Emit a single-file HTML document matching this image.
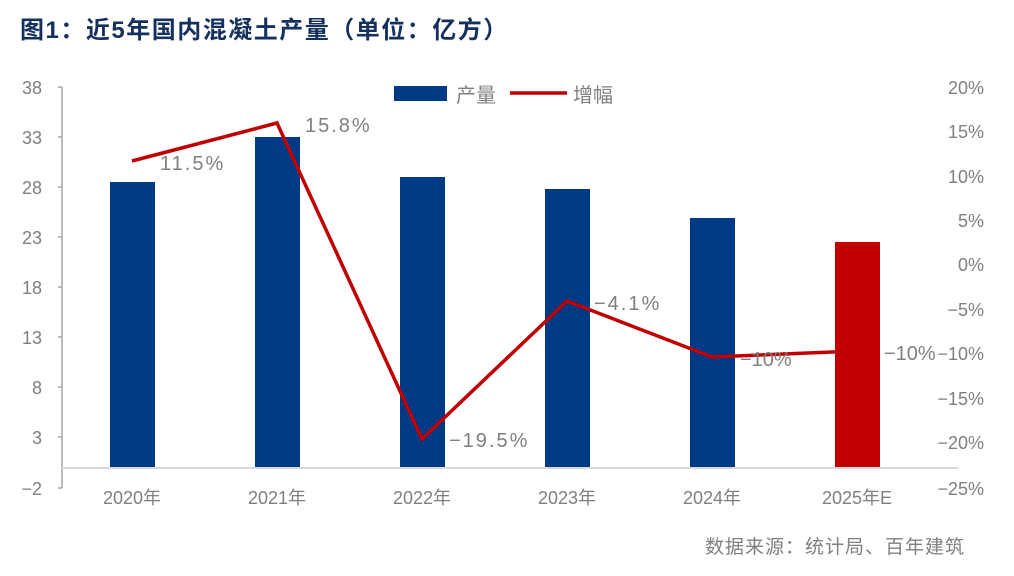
<!DOCTYPE html>
<html><head><meta charset="utf-8"><style>
html,body{margin:0;padding:0;background:#fff;}
svg{display:block;}
text{font-family:"Liberation Sans","Noto Sans CJK SC",sans-serif;}
</style></head><body>
<svg width="1014" height="576" viewBox="0 0 1014 576" xmlns="http://www.w3.org/2000/svg">
<text x="20" y="38" font-size="24" font-weight="bold" fill="#14305e" letter-spacing="1.5">图1：近5年国内混凝土产量（单位：亿方）</text>
<!-- legend -->
<rect x="394" y="86" width="53" height="15" fill="#003a87"/>
<text x="456" y="102" font-size="20" fill="#808080">产量</text>
<line x1="510" y1="93" x2="567" y2="93" stroke="#c00000" stroke-width="3.5"/>
<text x="573" y="102" font-size="20" fill="#808080">增幅</text>
<!-- left axis -->
<line x1="62" y1="87" x2="62" y2="488" stroke="#a6a6a6" stroke-width="1.5"/>
<g stroke="#a6a6a6" stroke-width="1.5">
<line x1="58" y1="87" x2="62" y2="87"/><line x1="58" y1="137" x2="62" y2="137"/><line x1="58" y1="187" x2="62" y2="187"/><line x1="58" y1="237" x2="62" y2="237"/><line x1="58" y1="287" x2="62" y2="287"/><line x1="58" y1="337" x2="62" y2="337"/><line x1="58" y1="387" x2="62" y2="387"/><line x1="58" y1="437" x2="62" y2="437"/><line x1="58" y1="488" x2="62" y2="488"/>
</g>
<g font-size="18" fill="#7f7f7f" text-anchor="end">
<text x="42" y="94">38</text><text x="42" y="144">33</text><text x="42" y="194">28</text><text x="42" y="244">23</text><text x="42" y="294">18</text><text x="42" y="344">13</text><text x="42" y="394">8</text><text x="42" y="444">3</text><text x="42" y="495">−2</text>
</g>
<g font-size="18" fill="#7f7f7f" text-anchor="end">
<text x="984" y="94">20%</text><text x="984" y="138">15%</text><text x="984" y="183">10%</text><text x="984" y="227">5%</text><text x="984" y="271">0%</text>
<text x="984" y="316">−5%</text><text x="984" y="360">−10%</text><text x="984" y="405">−15%</text><text x="984" y="449">−20%</text><text x="984" y="495">−25%</text>
</g>
<!-- bars -->
<g fill="#003a87">
<rect x="110" y="182" width="45" height="286"/>
<rect x="255" y="137" width="45" height="331"/>
<rect x="400" y="177" width="45" height="291"/>
<rect x="545" y="189" width="45" height="279"/>
<rect x="690" y="218" width="45" height="250"/>
</g>
<rect x="835" y="242" width="45" height="226" fill="#c00000"/>
<line x1="62" y1="468" x2="958" y2="468" stroke="#d9d9d9" stroke-width="2"/>
<!-- line -->
<polyline points="132,161 277,123 422,439 567,301 712,357 857,351" fill="none" stroke="#c00000" stroke-width="3.5"/>
<g font-size="20" fill="#7f7f7f">
<text x="160" y="170" letter-spacing="2">11.5%</text>
<text x="305" y="132" letter-spacing="2">15.8%</text>
<text x="449" y="447" letter-spacing="2">−19.5%</text>
<text x="594" y="310" letter-spacing="2">−4.1%</text>
<text x="740" y="366">−10%</text>
<text x="884" y="360">−10%</text>
</g>
<!-- x labels -->
<g font-size="18" fill="#7f7f7f" text-anchor="middle">
<text x="132" y="504">2020年</text><text x="277" y="504">2021年</text><text x="422" y="504">2022年</text><text x="567" y="504">2023年</text><text x="712" y="504">2024年</text><text x="857" y="504">2025年E</text>
</g>
<text x="965" y="553" font-size="19" fill="#808080" text-anchor="end" letter-spacing="1">数据来源：统计局、百年建筑</text>
</svg>
</body></html>
